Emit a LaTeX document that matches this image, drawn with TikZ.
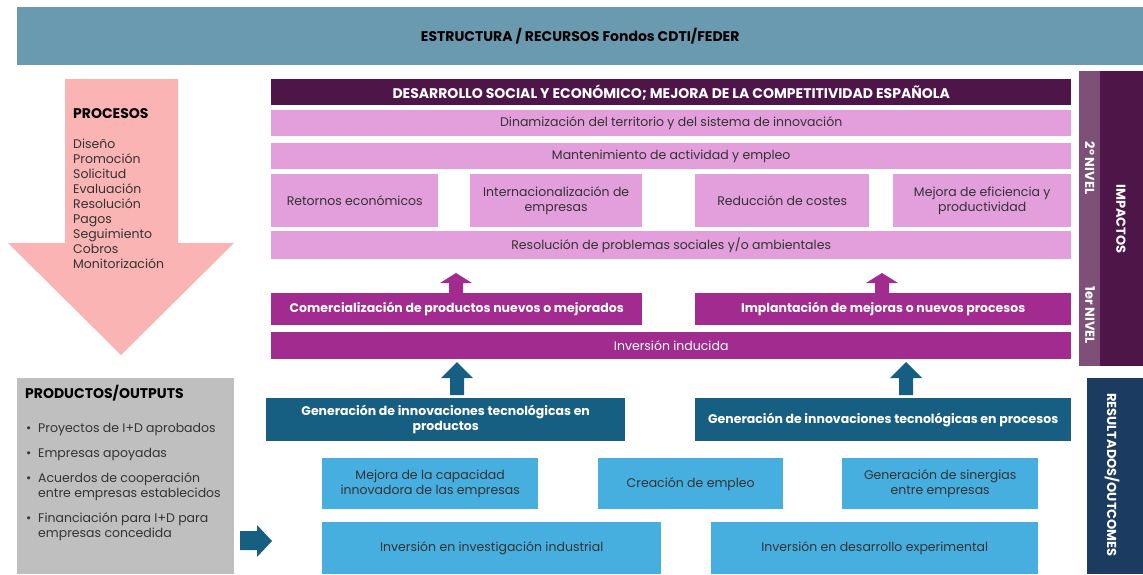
\documentclass[tikz,border=0pt]{standalone}
\usepackage{fontspec}
\setmainfont{Poppins}
\usetikzlibrary{positioning}
\definecolor{estructura}{HTML}{6A9AAF}
\definecolor{procesos}{HTML}{FBB4B4}
\definecolor{morado}{HTML}{4E1548}
\definecolor{rosa}{HTML}{E39EDC}
\definecolor{magenta}{HTML}{A12B8E}
\definecolor{nivel}{HTML}{7E5077}
\definecolor{petroleo}{HTML}{175F82}
\definecolor{celeste}{HTML}{46AFE0}
\definecolor{marino}{HTML}{1B3B60}
\definecolor{gris}{HTML}{BFBFBF}
\definecolor{texto}{HTML}{333333}
\tikzset{
  box/.style={anchor=north west,inner sep=0pt,align=center,
    font=\fontsize{12.5}{15}\selectfont},
  negrita/.style={font=\fontsize{12.5}{15}\selectfont\bfseries},
  titulo/.style={font=\fontsize{14}{16}\selectfont\bfseries},
  rosabox/.style={box,fill=rosa,text=texto},
  magbox/.style={box,fill=magenta,text=white},
  petrobox/.style={box,fill=petroleo,text=white,negrita},
  celebox/.style={box,fill=celeste,text=texto},
  sidebar/.style={rotate=-90,text=white,font=\fontsize{13}{15}\selectfont\bfseries},
  lista/.style={anchor=north west,inner sep=0pt,align=left,text=texto,
    font=\fontsize{12.5}{15}\selectfont},
  bala/.style={anchor=north west,inner sep=0pt,text=texto,font=\fontsize{12.5}{15}\selectfont}
}
\begin{document}
\begin{tikzpicture}[x=1pt,y=-1pt]
\useasboundingbox (0,0) rectangle (1143,574);
%top bar
\node[box,fill=estructura,minimum width=1126pt,minimum height=58pt,titulo,text=black]
  (estructura) at (17,7) {ESTRUCTURA / RECURSOS Fondos CDTI/FEDER};
%procesos arrow
\fill[procesos](65,79)--(178,79)--(178,243)--(234,243)--(121,355)--(8,243)--(65,243)--cycle;
\node[anchor=west,inner sep=0pt,titulo] (procesos) at (73,114) {PROCESOS};
\node[lista] (pasos) at (73,137.5) {\strut Diseño\\Promoción\\Solicitud\\Evaluación\\Resolución\\Pagos\\Seguimiento\\Cobros\\Monitorización};
%impactos
\node[box,fill=morado,text=white,minimum width=800pt,minimum height=26pt,titulo]
  (desarrollo) at (271,79) {DESARROLLO SOCIAL Y ECONÓMICO; MEJORA DE LA COMPETITIVIDAD ESPAÑOLA};
\node[rosabox,minimum width=800pt,minimum height=26pt] (dinamizacion) at (271,110) {Dinamización del territorio y del sistema de innovación};
\node[rosabox,minimum width=800pt,minimum height=26pt] (mantenimiento) at (271,143) {Mantenimiento de actividad y empleo};
\node[rosabox,minimum width=167pt,minimum height=53pt] (retornos) at (271,174) {Retornos económicos};
\node[rosabox,minimum width=172pt,minimum height=53pt] (internacional) at (470,174) {Internacionalización de\\empresas};
\node[rosabox,minimum width=174pt,minimum height=53pt] (costes) at (695,174) {Reducción de costes};
\node[rosabox,minimum width=178pt,minimum height=53pt] (eficiencia) at (893,174) {Mejora de eficiencia y\\productividad};
\node[rosabox,minimum width=800pt,minimum height=28pt] (problemas) at (271,231) {Resolución de problemas sociales y/o ambientales};
\fill[magenta](449,293)--(449,283)--(440,283)--(456,273)--(472,283)--(463,283)--(463,293)--cycle;
\fill[magenta](875,293)--(875,283)--(866,283)--(882,273)--(898,283)--(889,283)--(889,293)--cycle;
\node[magbox,minimum width=371pt,minimum height=32pt,negrita] (comercial) at (271,293) {Comercialización de productos nuevos o mejorados};
\node[magbox,minimum width=376pt,minimum height=32pt,negrita] (implantacion) at (695,293) {Implantación de mejoras o nuevos procesos};
\node[magbox,minimum width=800pt,minimum height=27pt] (inducida) at (271,332) {Inversión inducida};
%side bars
\node[box,fill=nivel,minimum width=21pt,minimum height=295pt] (nivelbar) at (1079,71) {};
\node[box,fill=morado,minimum width=43pt,minimum height=295pt] (impactosbar) at (1100,71) {};
\node[sidebar] (segundo) at (1090,168) {2º NIVEL};
\node[sidebar] (primero) at (1090,315) {1er NIVEL};
\node[sidebar] (impactos) at (1121,219) {IMPACTOS};
\node[box,fill=marino,minimum width=56pt,minimum height=196pt] (resultadosbar) at (1087,378) {};
\node[sidebar] (resultados) at (1112,475) {RESULTADOS/OUTCOMES};
%resultados
\fill[petroleo](450,395)--(450,378)--(441,378)--(457,362)--(473,378)--(464,378)--(464,395)--cycle;
\fill[petroleo](899,395)--(899,378)--(890,378)--(906,362)--(922,378)--(913,378)--(913,395)--cycle;
\node[petrobox,minimum width=359pt,minimum height=43pt] (innoprod) at (266,398) {Generación de innovaciones tecnológicas en\\productos};
\node[petrobox,minimum width=376pt,minimum height=43pt] (innoproc) at (695,398) {Generación de innovaciones tecnológicas en procesos};
\node[celebox,minimum width=216pt,minimum height=51pt] (capacidad) at (322,458) {Mejora de la capacidad\\innovadora de las empresas};
\node[celebox,minimum width=185pt,minimum height=51pt] (empleo) at (598,458) {Creación de empleo};
\node[celebox,minimum width=196pt,minimum height=51pt] (sinergias) at (842,458) {Generación de sinergias\\entre empresas};
\node[celebox,minimum width=339pt,minimum height=52pt] (industrial) at (322,522) {Inversión en investigación industrial};
\node[celebox,minimum width=327pt,minimum height=52pt] (experimental) at (711,522) {Inversión en desarrollo experimental};
%productos
\node[box,fill=gris,minimum width=217pt,minimum height=196pt] (productos) at (17,378) {};
\node[anchor=west,inner sep=0pt,titulo] (productostit) at (25,393) {PRODUCTOS/OUTPUTS};
\node[bala] (b1) at (26,421.5) {\strut•};
\node[bala] (b2) at (26,446.5) {\strut•};
\node[bala] (b3) at (26,471.5) {\strut•};
\node[bala] (b4) at (26,511.5) {\strut•};
\node[lista] (proyectos) at (38,421.5) {\strut Proyectos de I+D aprobados};
\node[lista] (apoyadas) at (38,446.5) {\strut Empresas apoyadas};
\node[lista] (acuerdos) at (38,471.5) {\strut Acuerdos de cooperación\\entre empresas establecidos};
\node[lista] (financiacion) at (38,511.5) {\strut Financiación para I+D para\\empresas concedida};
\fill[petroleo](240,531)--(257,531)--(257,525)--(272,541)--(257,557)--(257,550)--(240,550)--cycle;
\end{tikzpicture}
\end{document}
